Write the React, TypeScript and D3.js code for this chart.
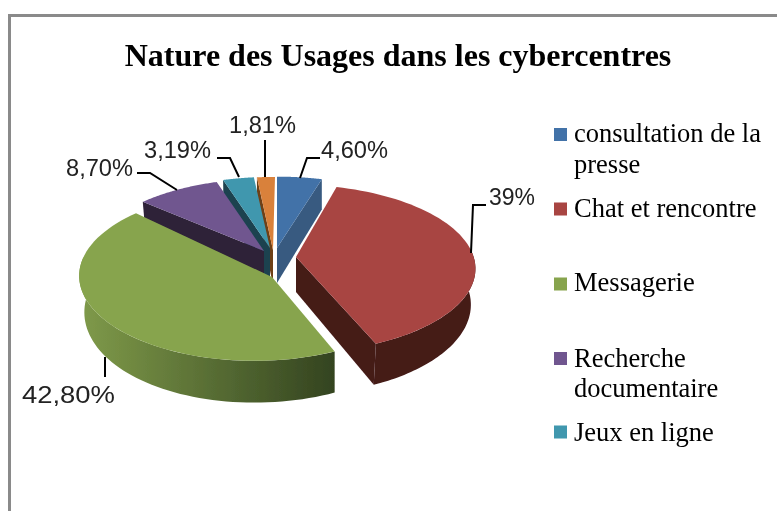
import React from "react";
import * as d3 from "d3";

const categories = ["consultation de la presse", "Chat et rencontre", "Messagerie", "Recherche documentaire", "Jeux en ligne", "Autres"];
const values = [4.6, 39, 42.8, 8.7, 3.19, 1.81];
const valueLabels = ["4,60%", "39%", "42,80%", "8,70%", "3,19%", "1,81%"];
const topColors = ["#4272a8", "#a84442", "#87a44d", "#6f568f", "#3f97ae", "#d9813a"];
const wallColors = ["#375a80", "#441a18", "#55692f", "#2d2038", "#1b4250", "#6e3f17"];
const title = "Nature des Usages dans les cybercentres";

const legendEntries: { idx: number; lines: string[]; ys: number[]; sy: number }[] = [
  { idx: 0, lines: ["consultation de la", "presse"], ys: [142, 173], sy: 134.5 },
  { idx: 1, lines: ["Chat et rencontre"], ys: [217], sy: 209 },
  { idx: 2, lines: ["Messagerie"], ys: [291], sy: 284 },
  { idx: 3, lines: ["Recherche", "documentaire"], ys: [367, 397], sy: 358.5 },
  { idx: 4, lines: ["Jeux en ligne"], ys: [441], sy: 432 },
];

const rimGeom = [
  { cx: 277, cy: 248, R: 182, H: 83 },
  { cx: 292, cy: 255, R: 181, H: 82 },
  { cx: 254.5, cy: 262, R: 173, H: 82.7 },
  { cx: 264, cy: 252, R: 177, H: 85 },
  { cx: 271.5, cy: 250, R: 181, H: 85 },
  { cx: 275, cy: 250, R: 185, H: 85 },
];
const apexes: [number, number][] = [[277, 248], [296, 257], [272, 277], [264, 251], [270, 248], [273, 250]];

const leaders: [number, number][][] = [
  [[300, 178], [307, 158], [320, 158]],
  [[471, 253], [473, 205], [486, 205]],
  [[105, 357], [105, 377]],
  [[177, 190], [150, 173], [137, 173]],
  [[239, 177], [230, 158], [217, 158]],
  [[265, 177], [265, 140]],
];
const labelPos: [number, number][] = [[321, 158], [489, 205], [22, 403], [66, 176], [144, 158], [229, 133]];
const labelLengths = [67, 46, 93, 67, 67, 67];

const K = 0.163;
const DEPTH = 35;
const slices = d3.pie<number>().sort(null).value((d) => d)(values);

function rim(i: number, a: number, lower = false): [number, number] {
  const g = rimGeom[i];
  const x = Math.sin(a);
  const z = Math.cos(a);
  const p = 1 / (1 + K * z);
  const sx = g.R * x * p;
  const sy = -g.H * z * p;
  const shrink = lower ? 1 - 0.03 * Math.max(0, -x) : 1;
  const shrinkRight = lower && x > 0 && i === 1 ? 0.975 : 1;
  return lower ? [g.cx + sx * shrink * shrinkRight, g.cy + sy + DEPTH * p] : [g.cx + sx, g.cy + sy];
}
const line = d3.line<[number, number]>();
const arcPts = (i: number, a0: number, a1: number, lower = false) =>
  d3.range(61).map((k) => rim(i, a0 + ((a1 - a0) * k) / 60, lower));

export default function App() {
  const greenWallStops = d3.range(0, 6);
  const greenRamp = d3.scaleLinear<string>().domain([0, 5]).range(["#7f9a4a", "#33431f"]);

  const topFace = (i: number) =>
    line([apexes[i], ...arcPts(i, slices[i].startAngle, slices[i].endAngle)])! + "Z";
  const outerWall = (i: number, a0: number, a1: number) =>
    line([...arcPts(i, a0, a1), ...arcPts(i, a0, a1, true).reverse()])! + "Z";
  const cutWall = (i: number, a: number) => {
    const p = rim(i, a);
    const q = rim(i, a, true);
    const ap = apexes[i];
    return line([p, q, [ap[0], ap[1] + DEPTH], ap])! + "Z";
  };

  const drawOrder = [5, 4, 3, 0, 1, 2];

  return (
    <svg width={777} height={511} style={{ position: "absolute", left: 0, top: 0 }}>
      <defs>
        <linearGradient id="gw" gradientUnits="userSpaceOnUse" x1={80} x2={336} y1={0} y2={0}>
          {greenWallStops.map((s) => (
            <stop key={s} offset={s / 5} stopColor={greenRamp(s)} />
          ))}
        </linearGradient>
        <filter id="soft" x="-5%" y="-5%" width="110%" height="110%">
          <feGaussianBlur stdDeviation={0.45} />
        </filter>
      </defs>
      <rect width={777} height={511} fill="#ffffff" />
      <path d="M9.5,511V15.5H777" fill="none" stroke="#8a8a8a" strokeWidth={3} />
      <g filter="url(#soft)">
        <text x={398} y={66} textAnchor="middle" fontFamily="'Liberation Serif'" fontWeight="bold" fontSize={32} fill="#000">
          {title}
        </text>
        {drawOrder.map((i) => {
          const s = slices[i];
          if (i === 0) {
            return (
              <g key={i}>
                <path d={cutWall(0, s.endAngle)} fill={wallColors[0]} />
                <path d={topFace(0)} fill={topColors[0]} />
              </g>
            );
          }
          if (i === 1) {
            return (
              <g key={i}>
                <path d={outerWall(1, s.startAngle + 1.25, s.endAngle)} fill={wallColors[1]} />
                <path d={cutWall(1, s.endAngle)} fill={wallColors[1]} />
                <path d={topFace(1)} fill={topColors[1]} />
              </g>
            );
          }
          if (i === 2) {
            return (
              <g key={i}>
                <path d={outerWall(2, s.startAngle, Math.PI * 1.52)} fill="url(#gw)" />
                <path d={topFace(2)} fill={topColors[2]} />
              </g>
            );
          }
          return (
            <g key={i}>
              <path d={cutWall(i, s.startAngle)} fill={wallColors[i]} />
              <path d={topFace(i)} fill={topColors[i]} />
            </g>
          );
        })}
        {leaders.map((l, i) => (
          <path key={i} d={line(l)!} fill="none" stroke="#000" strokeWidth={2} />
        ))}
        {valueLabels.map((t, i) => (
          <text
            key={i}
            x={labelPos[i][0]}
            y={labelPos[i][1]}
            fontFamily="'Liberation Sans'"
            fontSize={23.5}
            fill="#222"
            textLength={labelLengths[i]}
            lengthAdjust="spacingAndGlyphs"
          >
            {t}
          </text>
        ))}
        {legendEntries.map((e) => (
          <g key={e.idx}>
            <rect x={554} y={e.sy - 6.5} width={13} height={13} fill={topColors[e.idx]} />
            {e.lines.map((ln, j) => (
              <text key={j} x={574} y={e.ys[j]} fontFamily="'Liberation Serif'" fontSize={26.5} fill="#000">
                {ln}
              </text>
            ))}
          </g>
        ))}
      </g>
    </svg>
  );
}
